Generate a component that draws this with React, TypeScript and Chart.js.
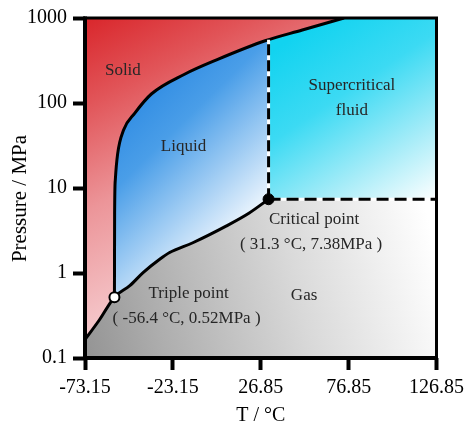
import { useEffect, useRef } from "react";
import { Chart, registerables } from "chart.js";

Chart.register(...registerables);

// ---- axis ticks ----
const xTicks = [-73.15, -23.15, 26.85, 76.85, 126.85];
const yTicks = [0.1, 1, 10, 100, 1000];

// ---- phase boundaries (T in °C, P in MPa) ----
const subT = [-73.15, -65.0, -56.4];
const subP = [0.165, 0.28, 0.52];
const vapT = [-47.65, -40.1, -30.66, -25.0, -11.8, 7.1, 20.3, 31.3];
const vapP = [0.71, 1.01, 1.45, 1.74, 2.27, 3.56, 5.08, 7.38];
const meltT = [-56.4, -56.3, -55.9, -54.6, -51.2, -44.8, -35.4, -16.5, 2.4, 29.8, 50.5, 74.2];
const meltP = [0.52, 5, 12.5, 25, 48, 76, 127.6, 218, 326, 543, 722, 1000];

// ---- special points ----
const tripleT = [-56.4];
const tripleP = [0.52];
const critT = [31.3];
const critP = [7.38];

// ---- dashed supercritical boundaries ----
const critVertT = [31.3, 31.3];
const critVertP = [7.38, 555];
const critHorT = [31.3, 126.85];
const critHorP = [7.38, 7.38];

// ---- region extents ----
const solidT = [-73.15, 126.85];
const solidP = [1000, 1000];
const superT = [31.3, 126.85];
const superP = [1000, 1000];

// ---- annotations ----
const labelText = [
  "Solid",
  "Liquid",
  "Supercritical",
  "fluid",
  "Critical point",
  "( 31.3 °C, 7.38MPa )",
  "Triple point",
  "( -56.4 °C, 0.52MPa )",
  "Gas",
];
const labelT = [-51.6, -17.1, 78.7, 78.7, 57.2, 55.5, -14.2, -15.35, 51.5];
const labelP = [241, 30.5, 161, 82, 4.29, 2.19, 0.573, 0.292, 0.543];

const FONT = '"Liberation Serif", "Times New Roman", serif';

const pts = (xs: number[], ys: number[]) => xs.map((x, i) => ({ x, y: ys[i] }));

type Stop = [number, string];
function grad(fx0: number, fy0: number, fx1: number, fy1: number, stops: Stop[]) {
  return (ctx: any) => {
    const chart = ctx.chart;
    const area = chart.chartArea;
    if (!area) return "transparent";
    const w = area.right - area.left;
    const h = area.bottom - area.top;
    const g = chart.ctx.createLinearGradient(
      area.left + fx0 * w, area.top + fy0 * h,
      area.left + fx1 * w, area.top + fy1 * h
    );
    stops.forEach(([o, c]) => g.addColorStop(o, c));
    return g;
  };
}

const redGrad = grad(0, 0, 0.5, 1, [
  [0, "#d9262b"], [0.2, "#e15458"], [0.45, "#ec9599"], [0.8, "#f7d3d6"], [1, "#fdeef0"],
]);
const blueGrad = grad(0.1, 0.22, 0.47, 0.61, [
  [0, "#2a88e2"], [0.35, "#4a9ee8"], [0.7, "#a5cff4"], [1, "#f4f9fe"],
]);
const cyanGrad = grad(0.61, 0.044, 0.95, 0.57, [
  [0, "#12d3f0"], [0.35, "#3cdaf3"], [0.7, "#a6ecf8"], [1, "#ffffff"],
]);
const grayGrad = grad(0, 0.95, 1.0, 0.68, [
  [0, "#959595"], [0.2, "#adadad"], [0.6, "#d9d9d9"], [1, "#ffffff"],
]);

const framePlugin = {
  id: "frame",
  afterDatasetsDraw(chart: any) {
    const { ctx, chartArea } = chart;
    const { left, top, right, bottom } = chartArea;
    ctx.save();
    ctx.strokeStyle = "#000";
    ctx.lineWidth = 3;
    ctx.strokeRect(left, top, right - left, bottom - top);
    ctx.lineWidth = 4;
    ctx.beginPath();
    ctx.moveTo(left, top - 1.5);
    ctx.lineTo(left, bottom);
    ctx.lineTo(right + 1.5, bottom);
    ctx.stroke();
    ctx.restore();
  },
};

const labelPlugin = {
  id: "phaseLabels",
  afterDatasetsDraw(chart: any) {
    const { ctx, scales } = chart;
    ctx.save();
    ctx.fillStyle = "#262626";
    ctx.font = `17px ${FONT}`;
    ctx.textAlign = "center";
    ctx.textBaseline = "middle";
    labelText.forEach((t, i) => {
      ctx.fillText(t, scales.x.getPixelForValue(labelT[i]), scales.y.getPixelForValue(labelP[i]));
    });
    ctx.restore();
  },
};

export default function App() {
  const ref = useRef<HTMLCanvasElement>(null);

  useEffect(() => {
    const canvas = ref.current;
    if (!canvas) return;

    const base = { pointRadius: 0, pointHoverRadius: 0 };
    const hidden = { ...base, borderWidth: 0, borderColor: "transparent" };
    const grayEdgeT = [vapT[vapT.length - 2], ...critHorT];
    const grayEdgeP = [vapP[vapP.length - 2], ...critHorP];

    const chart = new Chart(canvas, {
      type: "line",
      data: {
        datasets: [
          {
            ...base,
            data: pts(critT, critP),
            showLine: false,
            pointRadius: 5.5,
            pointBackgroundColor: "#000",
            pointBorderColor: "#000",
            pointBorderWidth: 1,
          },
          {
            ...base,
            data: pts(tripleT, tripleP),
            showLine: false,
            pointRadius: 5,
            pointBackgroundColor: "#fff",
            pointBorderColor: "#000",
            pointBorderWidth: 2,
          },
          {
            ...base,
            data: pts(critVertT, critVertP),
            borderColor: "#000",
            borderWidth: 3,
            borderDash: [11, 5],
            fill: false,
          },
          {
            ...base,
            data: pts(critVertT, critVertP),
            borderColor: "#fff",
            borderWidth: 3,
            fill: false,
          },
          {
            ...base,
            data: pts(critHorT, critHorP),
            borderColor: "#000",
            borderWidth: 3,
            borderDash: [12, 6],
            fill: false,
          },
          {
            ...base,
            data: pts(critHorT, critHorP),
            borderColor: "#fff",
            borderWidth: 3,
            fill: false,
          },
          {
            ...base,
            data: pts([...subT, ...vapT], [...subP, ...vapP]),
            borderColor: "#000",
            borderWidth: 3,
            cubicInterpolationMode: "monotone",
            fill: "start",
            backgroundColor: grayGrad,
          },
          {
            ...hidden,
            data: pts(grayEdgeT, grayEdgeP),
            fill: "start",
            backgroundColor: grayGrad,
          },
          {
            ...base,
            data: pts(meltT, meltP),
            borderColor: "#000",
            borderWidth: 3,
            cubicInterpolationMode: "monotone",
            fill: "end",
            backgroundColor: redGrad,
          },
          {
            ...hidden,
            data: pts(superT, superP),
            fill: "start",
            backgroundColor: cyanGrad,
          },
          {
            ...hidden,
            data: pts(meltT, meltP),
            cubicInterpolationMode: "monotone",
            fill: "start",
            backgroundColor: blueGrad,
          },
          {
            ...hidden,
            data: pts(solidT, solidP),
            fill: "start",
            backgroundColor: redGrad,
          },
        ] as any,
      },
      options: {
        animation: false,
        responsive: true,
        maintainAspectRatio: false,
        events: [],
        layout: { padding: { top: 15, right: 32, left: 0, bottom: 0 } },
        plugins: {
          legend: { display: false },
          tooltip: { enabled: false },
          filler: { propagate: false, drawTime: "beforeDatasetsDraw" },
        } as any,
        scales: {
          x: {
            type: "linear",
            min: -73.15,
            max: 126.85,
            afterFit: (s: any) => {
              s.height = 68;
            },
            afterBuildTicks: (s: any) => {
              s.ticks = xTicks.map((v) => ({ value: v }));
            },
            ticks: {
              color: "#000",
              font: { family: FONT, size: 20 },
              padding: 6,
              maxRotation: 0,
              autoSkip: false,
              callback: (v: any) => Number(v).toFixed(2),
            },
            grid: {
              display: true,
              drawOnChartArea: false,
              drawTicks: true,
              tickLength: 12,
              tickWidth: 4,
              tickColor: "#000",
              color: "#000",
            },
            border: { display: false },
            title: {
              display: true,
              text: "T / °C",
              color: "#000",
              font: { family: FONT, size: 20, lineHeight: 1 },
              padding: { top: 0, bottom: 0 },
            },
          },
          y: {
            type: "logarithmic",
            min: 0.1,
            max: 1000,
            afterFit: (s: any) => {
              s.width = 85;
            },
            afterBuildTicks: (s: any) => {
              s.ticks = yTicks.map((v) => ({ value: v }));
            },
            ticks: {
              color: "#000",
              font: { family: FONT, size: 20 },
              padding: 6,
              autoSkip: false,
              callback: (v: any) => String(v),
            },
            grid: {
              display: true,
              drawOnChartArea: false,
              drawTicks: true,
              tickLength: 12,
              tickWidth: 4,
              tickColor: "#000",
              color: "#000",
            },
            border: { display: false },
            title: {
              display: true,
              text: "Pressure / MPa\u00a0\u00a0\u00a0\u00a0",
              color: "#000",
              font: { family: FONT, size: 21 },
              padding: { top: 8, bottom: 0 },
            },
          },
        } as any,
      },
      plugins: [framePlugin, labelPlugin],
    });

    return () => chart.destroy();
  }, []);

  return (
    <div
      style={{
        position: "fixed",
        left: 0,
        top: 0,
        width: 470,
        height: 426,
        background: "#fff",
      }}
    >
      <canvas ref={ref} />
    </div>
  );
}
